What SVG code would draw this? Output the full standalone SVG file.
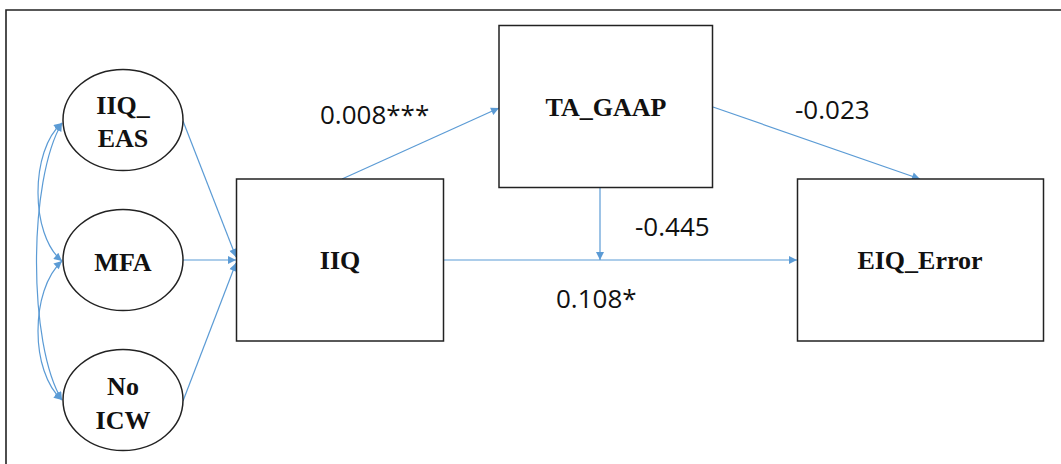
<svg xmlns="http://www.w3.org/2000/svg" width="1061" height="464" viewBox="0 0 1061 464">
<style>
.node{fill:#fff;stroke:#222;stroke-width:1.5}
.nt{font-family:"Liberation Serif","Times New Roman",serif;font-weight:bold;font-size:26px;fill:#111;text-anchor:middle}
.lbl{font-family:"Open Sans","Liberation Sans",sans-serif;font-size:26px;fill:#111}
.con{fill:none;stroke:#5B9BD5;stroke-width:1.2}
</style>
<defs>
<marker id="arr" viewBox="0 0 10 10" refX="10" refY="5" markerWidth="10" markerHeight="8" markerUnits="userSpaceOnUse" orient="auto-start-reverse">
<path d="M0,0 L10,5 L0,10 z" fill="#5B9BD5"/>
</marker>
</defs>
<rect x="0" y="0" width="1061" height="464" fill="#fff"/>
<path d="M6,464 L6,10 L1061,10" fill="none" stroke="#222" stroke-width="1.6"/>
<g id="connectors">
<path class="con" d="M62,123 C30,150 30,235 62,261" marker-start="url(#arr)" marker-end="url(#arr)"/>
<path class="con" d="M62,123 C28,180 28,345 62,400" marker-start="url(#arr)" marker-end="url(#arr)"/>
<path class="con" d="M62,261 C30,290 30,372 62,400" marker-start="url(#arr)" marker-end="url(#arr)"/>
<path class="con" d="M183,121 L236,257" marker-end="url(#arr)"/>
<path class="con" d="M183,260 L236,260" marker-end="url(#arr)"/>
<path class="con" d="M183,401 L236,263" marker-end="url(#arr)"/>
<path class="con" d="M342,179 L499,108" marker-end="url(#arr)"/>
<path class="con" d="M713,107 L920,179" marker-end="url(#arr)"/>
<path class="con" d="M443,260 L797,260" marker-end="url(#arr)"/>
<path class="con" d="M600,188 L600,260" marker-end="url(#arr)"/>
</g>
<g id="IIQ_EAS"><ellipse class="node" cx="123" cy="120" rx="60" ry="50.5"/><text class="nt" x="123" y="114">IIQ_</text><text class="nt" x="123" y="147">EAS</text></g>
<g id="MFA"><ellipse class="node" cx="123" cy="260" rx="60" ry="50.5"/><text class="nt" x="123" y="271">MFA</text></g>
<g id="NoICW"><ellipse class="node" cx="123" cy="400" rx="60" ry="50.5"/><text class="nt" x="123" y="395">No</text><text class="nt" x="123" y="429">ICW</text></g>
<g id="IIQ"><rect class="node" x="236.5" y="179" width="207" height="162"/><text class="nt" x="340" y="269">IIQ</text></g>
<g id="TA_GAAP"><rect class="node" x="499" y="25.5" width="213.5" height="162"/><text class="nt" x="606" y="116">TA_GAAP</text></g>
<g id="EIQ_Error"><rect class="node" x="797.5" y="179" width="246" height="162"/><text class="nt" x="920" y="269">EIQ_Error</text></g>
<g id="labels">
<text class="lbl" x="320" y="124">0.008***</text>
<text class="lbl" x="795" y="119">-0.023</text>
<text class="lbl" x="635" y="236">-0.445</text>
<text class="lbl" x="556" y="308">0.108*</text>
</g>
</svg>
